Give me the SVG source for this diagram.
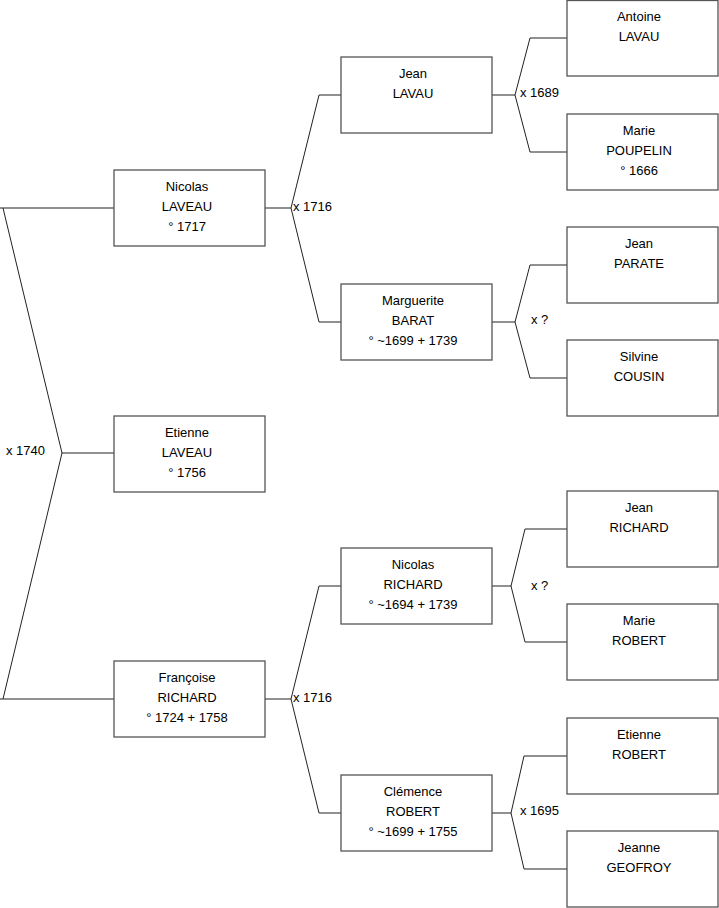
<svg xmlns="http://www.w3.org/2000/svg" width="719" height="908" viewBox="0 0 719 908">
<style>
.box{fill:#fff;stroke:#555;stroke-width:1.3}
.t{font-family:"Liberation Sans",Arial,sans-serif;font-size:13px;fill:#000;text-anchor:middle}
.l{font-family:"Liberation Sans",Arial,sans-serif;font-size:13px;fill:#000}
.c{fill:none;stroke:#222;stroke-width:1}
</style>
<rect width="719" height="908" fill="#fff"/>
<g id="connectors">
<path class="c" d="M0,208H114M3,208L62,453L3,699M62,453H114M0,699H114"/>
<path class="c" d="M265,208H291M341,95H319L291,208L319,322H341"/>
<path class="c" d="M492,95H515M567,38H530L515,95L530,152H567"/>
<path class="c" d="M492,322H515M567,265H530L515,322L530,378H567"/>
<path class="c" d="M265,699H291M341,586H319L291,699L319,813H341"/>
<path class="c" d="M492,586H511M567,529H525L511,586L525,642H567"/>
<path class="c" d="M492,813H511M567,756H524L511,813L524,869H567"/>
<text class="l" x="6" y="455">x 1740</text>
<text class="l" x="293" y="211">x 1716</text>
<text class="l" x="520" y="97">x 1689</text>
<text class="l" x="531" y="324">x ?</text>
<text class="l" x="293" y="702">x 1716</text>
<text class="l" x="531" y="590">x ?</text>
<text class="l" x="520" y="815">x 1695</text>
</g>
<g id="nicolas-laveau"><rect class="box" x="114" y="170" width="151" height="76"/><text class="t" x="187" y="191">Nicolas</text><text class="t" x="187" y="211">LAVEAU</text><text class="t" x="187" y="231">° 1717</text></g>
<g id="etienne-laveau"><rect class="box" x="114" y="416" width="151" height="76"/><text class="t" x="187" y="437">Etienne</text><text class="t" x="187" y="457">LAVEAU</text><text class="t" x="187" y="477">° 1756</text></g>
<g id="francoise-richard"><rect class="box" x="114" y="661" width="151" height="76"/><text class="t" x="187" y="682">Françoise</text><text class="t" x="187" y="702">RICHARD</text><text class="t" x="187" y="722">° 1724 + 1758</text></g>
<g id="jean-lavau"><rect class="box" x="341" y="57" width="151" height="76"/><text class="t" x="413" y="78">Jean</text><text class="t" x="413" y="98">LAVAU</text></g>
<g id="marguerite-barat"><rect class="box" x="341" y="284" width="151" height="76"/><text class="t" x="413" y="305">Marguerite</text><text class="t" x="413" y="325">BARAT</text><text class="t" x="413" y="345">° ~1699 + 1739</text></g>
<g id="nicolas-richard"><rect class="box" x="341" y="548" width="151" height="76"/><text class="t" x="413" y="569">Nicolas</text><text class="t" x="413" y="589">RICHARD</text><text class="t" x="413" y="609">° ~1694 + 1739</text></g>
<g id="clemence-robert"><rect class="box" x="341" y="775" width="151" height="76"/><text class="t" x="413" y="796">Clémence</text><text class="t" x="413" y="816">ROBERT</text><text class="t" x="413" y="836">° ~1699 + 1755</text></g>
<g id="antoine-lavau"><rect class="box" x="567" y="0.5" width="151" height="75.5"/><text class="t" x="639" y="21">Antoine</text><text class="t" x="639" y="41">LAVAU</text></g>
<g id="marie-poupelin"><rect class="box" x="567" y="114" width="151" height="76"/><text class="t" x="639" y="135">Marie</text><text class="t" x="639" y="155">POUPELIN</text><text class="t" x="639" y="175">° 1666</text></g>
<g id="jean-parate"><rect class="box" x="567" y="227" width="151" height="76"/><text class="t" x="639" y="248">Jean</text><text class="t" x="639" y="268">PARATE</text></g>
<g id="silvine-cousin"><rect class="box" x="567" y="340" width="151" height="76"/><text class="t" x="639" y="361">Silvine</text><text class="t" x="639" y="381">COUSIN</text></g>
<g id="jean-richard"><rect class="box" x="567" y="491" width="151" height="76"/><text class="t" x="639" y="512">Jean</text><text class="t" x="639" y="532">RICHARD</text></g>
<g id="marie-robert"><rect class="box" x="567" y="604" width="151" height="76"/><text class="t" x="639" y="625">Marie</text><text class="t" x="639" y="645">ROBERT</text></g>
<g id="etienne-robert"><rect class="box" x="567" y="718" width="151" height="76"/><text class="t" x="639" y="739">Etienne</text><text class="t" x="639" y="759">ROBERT</text></g>
<g id="jeanne-geofroy"><rect class="box" x="567" y="831" width="151" height="76"/><text class="t" x="639" y="852">Jeanne</text><text class="t" x="639" y="872">GEOFROY</text></g>
</svg>
